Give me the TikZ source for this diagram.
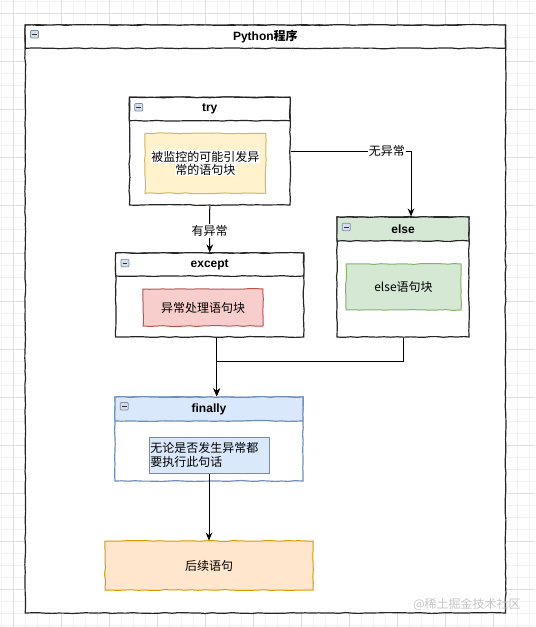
\documentclass[tikz,border=0pt]{standalone}
\usepackage{fontspec}
\setmainfont{Liberation Sans}
\newfontfamily\cjk{Noto Sans CJK SC}
\usetikzlibrary{arrows.meta, decorations.pathmorphing}
\definecolor{yellowfill}{HTML}{FFF2CC}
\definecolor{yellowline}{HTML}{D6B656}
\definecolor{redfill}{HTML}{F8CECC}
\definecolor{redline}{HTML}{B85450}
\definecolor{greenfill}{HTML}{D5E8D4}
\definecolor{greenline}{HTML}{82B366}
\definecolor{bluefill}{HTML}{DAE8FC}
\definecolor{blueline}{HTML}{6C8EBF}
\definecolor{orangefill}{HTML}{FFE6CC}
\definecolor{orangeline}{HTML}{D79B00}
\definecolor{iconfill}{HTML}{D4DEEA}
\definecolor{iconline}{HTML}{7E8FA6}
\setlength{\fboxsep}{0.5pt}
\tikzset{
  sketch/.style={decorate, decoration={random steps, segment length=5pt, amplitude=0.35pt}},
  lane/.style={sketch, draw=black!85, line width=0.9pt, fill=white, inner sep=0pt},
  lanehead/.style={lane, font=\bfseries\fontsize{9}{11}\selectfont},
  block/.style={sketch, line width=0.75pt, inner sep=0pt, align=center, font=\cjk\fontsize{9}{10}\selectfont},
  icon/.style={draw=iconline, fill=iconfill, line width=0.5pt, rounded corners=0.6pt,
    minimum width=6pt, minimum height=5.6pt, inner sep=0pt, anchor=north west,
    path picture={\draw[black!80, line width=0.6pt] ([xshift=1.3pt]path picture bounding box.west) -- ([xshift=-1.3pt]path picture bounding box.east);}},
  flow/.style={line width=0.75pt, -{Stealth[length=6pt,width=5pt]}},
  tag/.style={fill=white, inner sep=1pt, font=\cjk\fontsize{9}{10}\selectfont},
  minor/.style={gray!10, line width=0.75pt},
  major/.style={gray!25, line width=0.75pt}
}
\begin{document}
\begin{tikzpicture}[x=0.75pt, y=-0.75pt]
  \pgfmathsetseed{3}
  \useasboundingbox (0,0) rectangle (535,627);
  \fill[white] (0,0) rectangle (535,627);
  % grid
  \foreach \k in {0,...,44} \draw[minor] ({1.3+12*\k},0) -- ({1.3+12*\k},627);
  \foreach \k in {0,...,52} \draw[minor] (0,{1.3+12*\k}) -- (535,{1.3+12*\k});
  \foreach \k in {0,...,10} \draw[major] ({13.3+48*\k},0) -- ({13.3+48*\k},627);
  \foreach \k in {0,...,12} \draw[major] (0,{13.3+48*\k}) -- (535,{13.3+48*\k});

  % lanes
  \node (prog) at (265.4,319) [lane, minimum width=360.2pt, minimum height=441pt] {};
  \node (proghd) at (265.4,36.65) [lanehead, minimum width=360.2pt, minimum height=17.5pt] {Python{\cjk 程序}};
  \node (try) at (209.75,151.15) [lane, minimum width=120.4pt, minimum height=80.8pt] {};
  \node (tryhd) at (209.75,109) [lanehead, minimum width=120.4pt, minimum height=17.55pt] {try};
  \node (except) at (209.7,295) [lane, minimum width=141pt, minimum height=63pt] {};
  \node (excepthd) at (209.7,264.5) [lanehead, minimum width=141pt, minimum height=17.25pt] {except};
  \node (else) at (403,277) [lane, minimum width=99pt, minimum height=90pt] {};
  \node (elsehd) at (403,229) [lanehead, fill=greenfill, minimum width=99pt, minimum height=18pt] {else};
  \node (finally) at (209,439) [lane, draw=blueline, minimum width=141pt, minimum height=63pt] {};
  \node (finallyhd) at (209,409) [lanehead, draw=blueline, fill=bluefill, minimum width=141pt, minimum height=18pt] {finally};

  % collapse boxes
  \node (progicon) at ([shift={(5.5,5.8)}]prog.north west) [icon] {};
  \node (tryicon) at ([shift={(5.5,6.5)}]try.north west) [icon] {};
  \node (excepticon) at ([shift={(5.5,6.5)}]except.north west) [icon] {};
  \node (elseicon) at ([shift={(5.5,6.5)}]else.north west) [icon] {};
  \node (finallyicon) at ([shift={(5.5,5.8)}]finally.north west) [icon] {};

  % statements
  \node (trycode) at (205.35,163.3) [block, fill=yellowfill, draw=yellowline, minimum width=90.5pt, minimum height=45pt]
    {\colorbox{white}{被监控的可能引发异}\\\colorbox{white}{常的语句块}};
  \node (exceptcode) at (203,307.5) [block, fill=redfill, draw=redline, minimum width=90pt, minimum height=27.75pt] {异常处理语句块};
  \node (elsecode) at (403.5,287) [block, fill=greenfill, draw=greenline, minimum width=86.25pt, minimum height=34.5pt] {else{\cjk 语句块}};
  \node (finallycode) at (209,455) [draw=blueline, fill=bluefill, line width=0.75pt, inner xsep=1pt, inner ysep=0pt,
    text width=88pt, align=left, minimum height=27pt, font=\cjk\fontsize{9}{10.5}\selectfont] {无论是否发生异常都\\要执行此句话};
  \node (next) at (209,565.5) [block, fill=orangefill, draw=orangeline, minimum width=156pt, minimum height=36.75pt] {后续语句};

  % flow
  \coordinate (join) at (216.7,361);
  \draw[flow] (try.east) -| ([xshift=6pt]elsehd.north) node[tag, pos=0.4] {无异常};
  \draw[flow] (try.south) -- (except.north) node[tag, midway, yshift=-1.5pt] {有异常};
  \draw[flow] (except.south -| join) -- (finally.north -| join);
  \draw[flow] (else.south) |- (join) -- (finally.north -| join);
  \draw[flow] (finallycode.south) -- (next.north);

  \node (mark) at (467,604) [font=\cjk\fontsize{9}{10}\selectfont, text=gray!45] {@稀土掘金技术社区};
\end{tikzpicture}
\end{document}
